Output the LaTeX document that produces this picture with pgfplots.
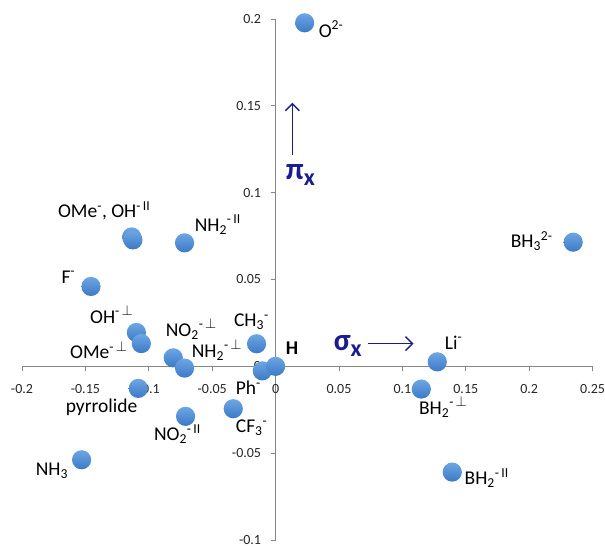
\documentclass[border=0pt]{standalone}
\usepackage{fontspec}
\setmainfont{Carlito}
\usepackage{pgfplots}
\pgfplotsset{compat=1.18}
\usetikzlibrary{arrows.meta}
\definecolor{pttop}{RGB}{110,166,228}
\definecolor{ptbot}{RGB}{60,122,198}
\definecolor{navyb}{RGB}{28,28,145}
\definecolor{axgray}{RGB}{134,134,134}
\pgfdeclareplotmark{gball}{%
  \shade[top color=pttop,bottom color=ptbot,draw=none] (0pt,0pt) circle[radius=\pgfplotmarksize];}
\newcommand{\lab}[1]{{\fontsize{19.5bp}{22bp}\selectfont #1}}
\newcommand{\perpx}{\ensuremath{\perp}}
\begin{document}
\begin{tikzpicture}
\begin{axis}[
  set layers=standard,
  scale only axis, width=570.6bp, height=521bp,
  xmin=-0.2,xmax=0.25,ymin=-0.1,ymax=0.2,
  axis lines=middle,
  axis line style={axgray, line width=0.8bp, -},
  xtick={-0.2,-0.15,-0.1,-0.05,0,0.05,0.1,0.15,0.2,0.25},
  xticklabels={-0.2,-0.15,-0.1,-0.05,0,0.05,0.1,0.15,0.2,0.25},
  ytick={-0.1,-0.05,0,0.05,0.1,0.15,0.2},
  yticklabels={-0.1,-0.05,0,0.05,0.1,0.15,0.2},
  hide obscured x ticks=false, hide obscured y ticks=false,
  tick align=outside, major tick length=5bp,
  tick style={axgray, line width=0.8bp},
  x tick label style={font=\fontsize{14bp}{16bp}\selectfont, text=black!85, yshift=-9.5bp},
  y tick label style={font=\fontsize{14bp}{16bp}\selectfont, text=black!85, xshift=-6bp},
  clip=false,
]
\addplot[only marks, mark=gball, mark size=9.6bp] coordinates {
  (0.0229,0.1978)
  (0.2347,0.0715)
  (-0.1135,0.0745)
  (-0.1125,0.0728)
  (-0.0718,0.0711)
  (-0.1456,0.0460)
  (-0.1098,0.0195)
  (-0.1059,0.0131)
  (-0.0807,0.0049)
  (-0.0718,-0.0010)
  (-0.0150,0.0130)
  (-0.0105,-0.0026)
  (0,0)
  (-0.1083,-0.0127)
  (-0.0710,-0.0288)
  (-0.0334,-0.0244)
  (-0.1530,-0.0538)
  (0.1275,0.0026)
  (0.1149,-0.0131)
  (0.1393,-0.0609)
};
\begin{scope}[every node/.style={anchor=base west, inner sep=0pt}]
\node at (axis cs:0.0339,0.1896) {\lab{O\textsuperscript{2-}}};
\node at (axis cs:0.1853,0.0684) {\lab{BH\textsubscript{3}\textsuperscript{2-}}};
\node at (axis cs:-0.1717,0.0856) {\lab{OMe\textsuperscript{-}, OH\textsuperscript{-\,II}}};
\node at (axis cs:-0.0639,0.0778) {\lab{NH\textsubscript{2}\textsuperscript{-\,II}}};
\node at (axis cs:-0.1690,0.0478) {\lab{F\textsuperscript{-}}};
\node at (axis cs:-0.1464,0.0248) {\lab{OH\textsuperscript{-\,\perpx}}};
\node at (axis cs:-0.1622,0.0043) {\lab{OMe\textsuperscript{-\,\perpx}}};
\node at (axis cs:-0.0867,0.0172) {\lab{NO\textsubscript{2}\textsuperscript{-\,\perpx}}};
\node at (axis cs:-0.0662,0.0051) {\lab{NH\textsubscript{2}\textsuperscript{-\,\perpx}}};
\node at (axis cs:-0.0329,0.0229) {\lab{CH\textsubscript{3}\textsuperscript{-}}};
\node at (axis cs:0.0079,0.0070) {\lab{\textbf{H}}};
\node at (axis cs:-0.0315,-0.0165) {\lab{Ph\textsuperscript{-}}};
\node at (axis cs:-0.1656,-0.0263) {\lab{pyrrolide}};
\node at (axis cs:-0.0960,-0.0428) {\lab{NO\textsubscript{2}\textsuperscript{-\,II}}};
\node at (axis cs:-0.0315,-0.0383) {\lab{CF\textsubscript{3}\textsuperscript{-}}};
\node at (axis cs:-0.1892,-0.0630) {\lab{NH\textsubscript{3}}};
\node at (axis cs:0.1333,0.0099) {\lab{Li\textsuperscript{-}}};
\node at (axis cs:0.1130,-0.0275) {\lab{BH\textsubscript{2}\textsuperscript{-\,\perpx}}};
\node at (axis cs:0.1490,-0.0682) {\lab{BH\textsubscript{2}\textsuperscript{-\,II}}};
\node[text=navyb] at (axis cs:0.0457,0.0089) {\fontsize{31bp}{32bp}\selectfont\bfseries σ\raisebox{-6bp}{\fontsize{24bp}{26bp}\selectfont x}};
\node[text=navyb] at (axis cs:0.0079,0.1075) {\fontsize{31bp}{32bp}\selectfont\bfseries π\raisebox{-6bp}{\fontsize{24bp}{26bp}\selectfont x}};
\end{scope}
\draw[navyb, line width=1.5bp, -{Straight Barb[length=7bp,width=14bp,line width=1.5bp]}] (axis cs:0.0725,0.0131) -- (axis cs:0.1088,0.0131);
\draw[navyb, line width=1.5bp, -{Straight Barb[length=7bp,width=14bp,line width=1.5bp]}] (axis cs:0.0132,0.1218) -- (axis cs:0.0132,0.1518);
\coordinate (SW) at (rel axis cs:0,0);
\coordinate (NE) at (rel axis cs:1,1);
\end{axis}
\pgfresetboundingbox
\path ([xshift=-22bp,yshift=-7bp]SW) rectangle ([xshift=12.4bp,yshift=19bp]NE);
\end{tikzpicture}
\end{document}
